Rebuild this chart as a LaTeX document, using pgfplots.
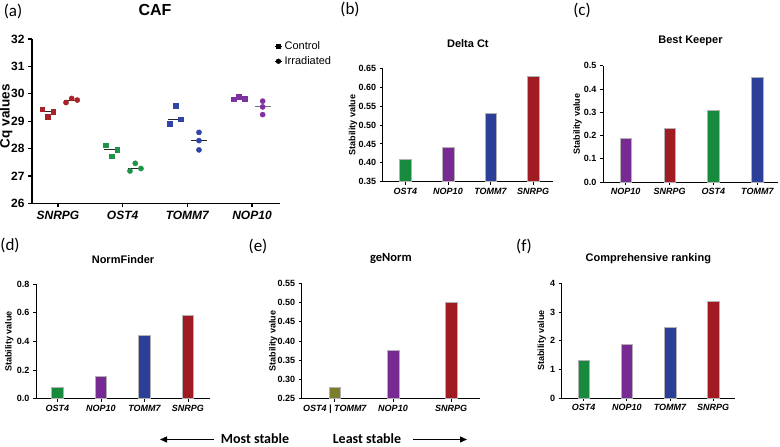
\documentclass[border=0pt]{standalone}
\usepackage{fontspec}
\setmainfont{Liberation Sans}
\newfontfamily\carlito{Carlito}
\usepackage{pgfplots}
\pgfplotsset{compat=1.18}
\usetikzlibrary{arrows.meta}
\definecolor{cred}{HTML}{A01B22}
\definecolor{cgreen}{HTML}{188A3E}
\definecolor{cblue}{HTML}{2B3E98}
\definecolor{cpurple}{HTML}{772B92}
\definecolor{colive}{HTML}{7D7E2C}
\definecolor{sred}{HTML}{A8222A}
\definecolor{sgreen}{HTML}{1E9448}
\definecolor{sblue}{HTML}{2E45A6}
\definecolor{spurple}{HTML}{7E32A0}
\pgfplotsset{
 /pgf/number format/assume math mode=true,
 base/.style={scale only axis, axis lines=left, axis line style={-, line width=1pt, black},
   tick align=outside, major tick length=3pt, tick style={black, line width=0.9pt},
   enlargelimits=false},
 bars/.style={base, xtick={0,1,2,3}, ylabel={Stability value},
   ylabel style={font=\bfseries\fontsize{9}{10}\selectfont, at={(axis description cs:#1,0.5)}, anchor=center},
   yticklabel style={font=\bfseries\fontsize{9}{10}\selectfont},
   xticklabel style={font=\bfseries\itshape\fontsize{9}{10}\selectfont},
   title style={font=\bfseries\fontsize{11}{13}\selectfont, at={(axis description cs:0.5,1.165)}, anchor=center}},
}
\newcommand\bbar[3]{\addplot[ybar, bar width=11.5pt, bar shift=0pt, fill=#1, draw=black!30, line width=0.5pt] coordinates {(#2,#3)};}
\begin{document}
\begin{tikzpicture}
\path[use as bounding box] (0pt,0pt) rectangle (780pt,-447pt);
% ---------------- (a)
\begin{axis}[base, at={(32pt,-203.3pt)}, anchor=south west, width=248pt, height=164.3pt,
  xmin=-0.402, xmax=3.433, ymin=26, ymax=32, ytick={26,27,...,32},
  axis line style={-, line width=1.4pt, black}, tick style={black, line width=1.3pt}, major tick length=4pt,
  xtick={0,1,2,3}, xticklabels={SNRPG,OST4,TOMM7,NOP10},
  xticklabel style={font=\bfseries\itshape\fontsize{12}{14}\selectfont},
  yticklabel style={font=\bfseries\fontsize{12}{14}\selectfont},
  ylabel={Cq values}, ylabel style={font=\bfseries\fontsize{13.5}{15}\selectfont, at={(axis description cs:-0.104,0.53)}, anchor=center},
  title={CAF}, title style={font=\bfseries\fontsize{16}{18}\selectfont, at={(axis description cs:0.496,1.14)}, anchor=center},
  clip=false,
  legend style={at={(axis description cs:0.98,0.998)}, anchor=north west, draw=none, fill=none,
    font=\fontsize{11}{13}\selectfont, inner sep=0pt, row sep=1.5pt},
  legend cell align=left,
  legend image code/.code={\path (0pt,0pt) -- (7pt,0pt); \draw[#1] plot coordinates {(3pt,0pt)};},
]
% median lines
\addplot[forget plot, black!85, line width=1pt] coordinates {(-0.27,29.35) (-0.05,29.35)};
\addplot[forget plot, black!85, line width=1pt] coordinates {(0.10,29.77) (0.32,29.77)};
\addplot[forget plot, black!85, line width=1pt] coordinates {(0.711,27.95) (0.959,27.95)};
\addplot[forget plot, black!85, line width=1pt] coordinates {(1.078,27.27) (1.319,27.27)};
\addplot[forget plot, black!85, line width=1pt] coordinates {(1.696,29.07) (1.938,29.07)};
\addplot[forget plot, black!85, line width=1pt] coordinates {(2.057,28.29) (2.299,28.29)};
\addplot[forget plot, black!70, line width=1pt] coordinates {(2.69,29.82) (2.90,29.82)};
\addplot[forget plot, black!55, line width=1pt] coordinates {(3.046,29.52) (3.289,29.52)};
% control (squares)
\addplot[forget plot, only marks, mark=square*, mark size=2.4pt, sred] coordinates {(-0.243,29.44) (-0.159,29.15) (-0.073,29.35)};
\addplot[forget plot, only marks, mark=square*, mark size=2.4pt, sgreen] coordinates {(0.742,28.12) (0.830,27.72) (0.917,27.95)};
\addplot[forget plot, only marks, mark=square*, mark size=2.4pt, sblue] coordinates {(1.732,28.90) (1.814,29.56) (1.902,29.07)};
\addplot[forget plot, only marks, mark=square*, mark size=2.4pt, spurple] coordinates {(2.711,29.80) (2.799,29.88) (2.881,29.82)};
% irradiated (circles)
\addplot[forget plot, only marks, mark=*, mark size=2.6pt, sred] coordinates {(0.124,29.68) (0.212,29.83) (0.298,29.77)};
\addplot[forget plot, only marks, mark=*, mark size=2.6pt, sgreen] coordinates {(1.113,27.18) (1.195,27.46) (1.283,27.27)};
\addplot[forget plot, only marks, mark=*, mark size=2.6pt, sblue] coordinates {(2.180,28.59) (2.180,28.29) (2.180,27.95)};
\addplot[forget plot, only marks, mark=*, mark size=2.6pt, spurple] coordinates {(3.165,29.73) (3.165,29.52) (3.165,29.24)};
\addlegendimage{only marks, mark=square*, mark size=2.2pt, black}
\addlegendentry{Control}
\addlegendimage{only marks, mark=*, mark size=2.4pt, black}
\addlegendentry{Irradiated}
\end{axis}
% ---------------- (b)
\begin{axis}[bars=-0.174, at={(382.7pt,-181.7pt)}, anchor=south west, width=170.3pt, height=113.4pt,
  xmin=-0.536, xmax=3.47, ymin=0.35, ymax=0.65, ytick={0.35,0.40,...,0.66},
  yticklabel style={/pgf/number format/.cd, fixed, fixed zerofill, precision=2},
  xticklabels={OST4,NOP10,TOMM7,SNRPG}, title={Delta Ct}]
\bbar{cgreen}{0}{0.41}
\bbar{cpurple}{1}{0.44}
\bbar{cblue}{2}{0.53}
\bbar{cred}{3}{0.63}
\end{axis}
% ---------------- (c)
\begin{axis}[bars=-0.145, at={(603pt,-182pt)}, anchor=south west, width=175pt, height=116.3pt,
  xmin=-0.517, xmax=3.47, ymin=0, ymax=0.5, ytick={0,0.1,...,0.51},
  yticklabel style={/pgf/number format/.cd, fixed, fixed zerofill, precision=1},
  xticklabels={NOP10,SNRPG,OST4,TOMM7}, title={Best Keeper}]
\bbar{cpurple}{0}{0.19}
\bbar{cred}{1}{0.23}
\bbar{cgreen}{2}{0.31}
\bbar{cblue}{3}{0.45}
\end{axis}
% ---------------- (d)
\begin{axis}[bars=-0.153, at={(36pt,-398.7pt)}, anchor=south west, width=174pt, height=114.7pt,
  xmin=-0.494, xmax=3.506, ymin=0, ymax=0.8, ytick={0,0.2,...,0.81},
  yticklabel style={/pgf/number format/.cd, fixed, fixed zerofill, precision=1},
  xticklabels={OST4,NOP10,TOMM7,SNRPG}, title={NormFinder}]
\bbar{cgreen}{0}{0.08}
\bbar{cpurple}{1}{0.16}
\bbar{cblue}{2}{0.44}
\bbar{cred}{3}{0.58}
\end{axis}
% ---------------- (e)
\begin{axis}[bars=-0.159, at={(301.7pt,-398.7pt)}, anchor=south west, width=178.3pt, height=115.4pt,
  xmin=-0.569, xmax=2.495, ymin=0.25, ymax=0.55, ytick={0.25,0.30,...,0.56}, xtick={0,1,2},
  yticklabel style={/pgf/number format/.cd, fixed, fixed zerofill, precision=2},
  xticklabels={OST4 | TOMM7,NOP10,SNRPG}, title={geNorm},
  title style={font=\carlito\bfseries\fontsize{12.5}{14}\selectfont}]
\bbar{colive}{0}{0.28}
\bbar{cpurple}{1}{0.376}
\bbar{cred}{2}{0.502}
\end{axis}
% ---------------- (f)
\begin{axis}[bars=-0.115, at={(561.7pt,-398pt)}, anchor=south west, width=173.3pt, height=114.7pt,
  xmin=-0.51, xmax=3.505, ymin=0, ymax=4, ytick={0,1,...,4},
  xticklabels={OST4,NOP10,TOMM7,SNRPG}, title={Comprehensive ranking}]
\bbar{cgreen}{0}{1.32}
\bbar{cpurple}{1}{1.86}
\bbar{cblue}{2}{2.46}
\bbar{cred}{3}{3.36}
\end{axis}
% panel labels
\begin{scope}[every node/.style={font=\carlito\fontsize{17}{17}\selectfont, inner sep=0pt}]
\node at (13pt,-11pt) {(a)};
\node at (350pt,-9pt) {(b)};
\node at (582pt,-10pt) {(c)};
\node at (10pt,-245pt) {(d)};
\node at (258pt,-246pt) {(e)};
\node at (524pt,-246pt) {(f)};
\end{scope}
% bottom arrows
\node[font=\carlito\bfseries\fontsize{14}{15}\selectfont, inner sep=0pt] at (255pt,-438.5pt) {Most stable};
\node[font=\carlito\bfseries\fontsize{14}{15}\selectfont, inner sep=0pt] at (367pt,-438.5pt) {Least stable};
\draw[-{Triangle[length=7pt,width=6pt]}, line width=1.2pt] (214pt,-439.5pt) -- (160pt,-439.5pt);
\draw[-{Triangle[length=7pt,width=6pt]}, line width=1.2pt] (413pt,-439.5pt) -- (467pt,-439.5pt);
\end{tikzpicture}
\end{document}
